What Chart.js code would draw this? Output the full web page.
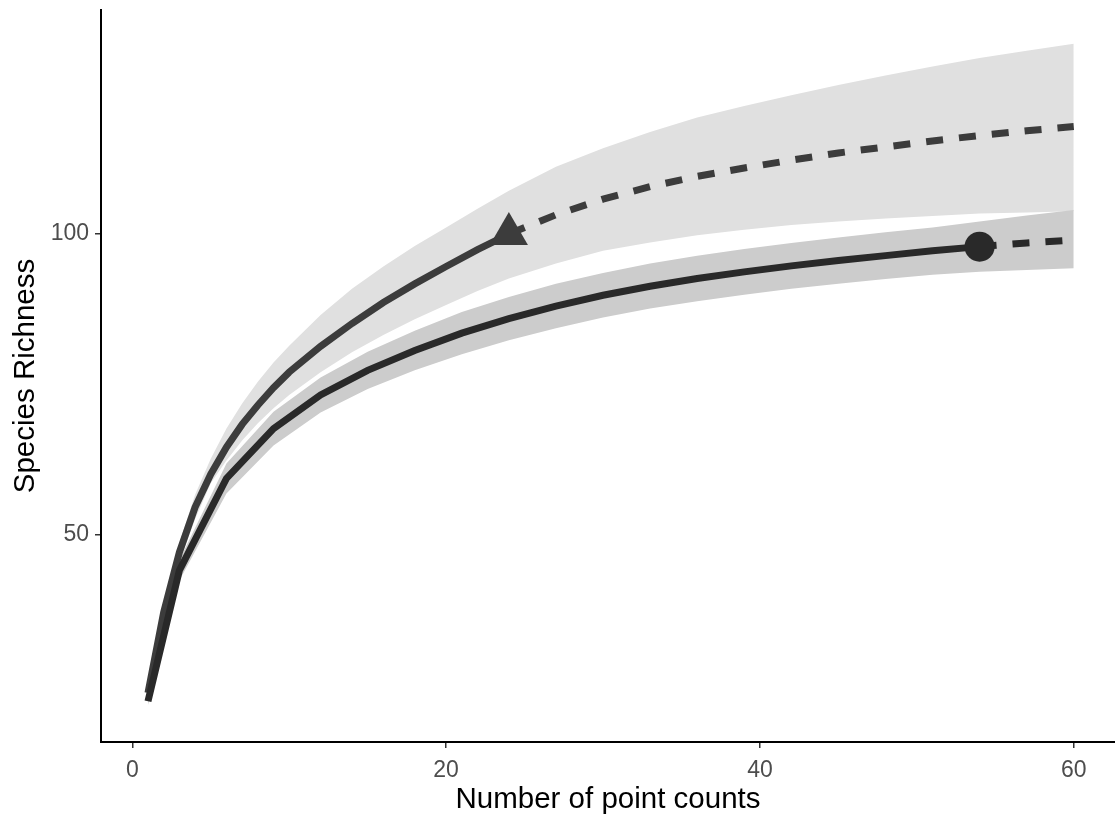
<!DOCTYPE html>
<html>
<head>
<meta charset="utf-8">
<script src="https://cdn.jsdelivr.net/npm/chart.js@4.4.1/dist/chart.umd.min.js"></script>
<style>
  html, body { margin: 0; padding: 0; background: #ffffff; }
  #wrap { width: 1115px; height: 818px; }
</style>
</head>
<body>
<div id="wrap"><canvas id="rarefaction"></canvas></div>
<script>
const xTicks = [0, 20, 40, 60];
const yTicks = [50, 100];

// site 1 (circle): observed up to 54 point counts, extrapolated after
const s1Ref = 54;
const s1Size = [1, 3, 6, 9, 12, 15, 18, 21, 24, 27, 30, 33, 36, 39, 42, 45, 48, 51, 54, 57, 60];
const s1Est = [22.2, 44, 59.3, 67.6, 73.2, 77.3, 80.6, 83.5, 85.9, 88.0, 89.8, 91.3, 92.6, 93.7, 94.7, 95.6, 96.4, 97.2, 97.9, 98.5, 99.0];
const s1Lcl = [21.6, 42.3, 56.8, 64.8, 70.3, 74.2, 77.3, 80.0, 82.3, 84.3, 86.1, 87.6, 88.8, 89.9, 90.9, 91.7, 92.5, 93.2, 93.7, 94.0, 94.3];
const s1Ucl = [22.8, 45.7, 61.8, 70.4, 76.1, 80.4, 83.9, 87.0, 89.5, 91.7, 93.5, 95.1, 96.4, 97.5, 98.5, 99.4, 100.3, 101.1, 102.1, 103.1, 104.0];

// site 2 (triangle): observed up to 24 point counts
const s2Ref = 24;
const s2Size = [1, 2, 3, 4, 5, 6, 7, 8, 9, 10, 12, 14, 16, 18, 20, 22, 24, 27, 30, 33, 36, 39, 42, 45, 48, 51, 54, 57, 60];
const s2Est = [23.6, 37, 47, 54.5, 60, 64.5, 68.3, 71.5, 74.4, 77, 81.3, 85.1, 88.6, 91.7, 94.6, 97.4, 100.0, 103.2, 105.8, 107.9, 109.6, 111.0, 112.3, 113.5, 114.5, 115.5, 116.4, 117.2, 117.9];
const s2Lcl = [23.0, 35.8, 45.4, 52.5, 58.5, 62.3, 65.6, 68.5, 71.0, 73.2, 77.0, 80.3, 83.2, 85.8, 88.2, 90.5, 92.6, 95.1, 97.2, 98.6, 99.8, 100.7, 101.5, 102.1, 102.6, 103.0, 103.4, 103.6, 103.8];
const s2Ucl = [24.2, 38.2, 48.6, 56.6, 62.6, 67.6, 71.8, 75.4, 78.6, 81.4, 86.5, 90.9, 94.6, 98.0, 101.1, 104.2, 107.2, 111.2, 114.3, 117.0, 119.4, 121.3, 123.1, 124.8, 126.4, 127.9, 129.3, 130.5, 131.7];

const font = "'Liberation Sans', Arial, sans-serif";

const pts = (xs, ys) => xs.map((x, i) => ({ x: x, y: ys[i] }));
const observed = (xs, ys, ref) => pts(xs, ys).filter((p) => p.x <= ref);
const extrapolated = (xs, ys, ref) => pts(xs, ys).filter((p) => p.x >= ref);
const refPoint = (xs, ys, ref) => pts(xs, ys).filter((p) => p.x === ref);

const line = (data, color, dashed) => ({
  type: "line",
  data: data,
  borderColor: color,
  borderWidth: 7,
  borderDash: dashed ? [17, 16] : [],
  borderCapStyle: "butt",
  pointRadius: 0,
  tension: 0,
  fill: false,
});

const band = (data, color, fill) => ({
  type: "line",
  data: data,
  borderWidth: 0,
  borderColor: "rgba(0,0,0,0)",
  backgroundColor: color,
  pointRadius: 0,
  tension: 0,
  fill: fill,
});

// keep the plot area fixed: no extra room for the end tick labels
const fixBox = (size) => (s) => {
  if (s.isHorizontal()) s.height = size;
  else s.width = size;
  s.paddingTop = 0;
  s.paddingBottom = 0;
  s.paddingLeft = 0;
  s.paddingRight = 0;
};

new Chart(document.getElementById("rarefaction"), {
  type: "line",
  data: {
    datasets: [
      {
        type: "scatter",
        data: refPoint(s1Size, s1Est, s1Ref),
        pointStyle: "circle",
        pointRadius: 15,
        backgroundColor: "#292929",
        borderWidth: 0,
      },
      {
        type: "scatter",
        data: refPoint(s2Size, s2Est, s2Ref),
        pointStyle: "triangle",
        pointRadius: 22,
        backgroundColor: "#3c3c3c",
        borderWidth: 0,
      },
      line(observed(s1Size, s1Est, s1Ref), "#292929", false),
      line(extrapolated(s1Size, s1Est, s1Ref), "#292929", true),
      line(observed(s2Size, s2Est, s2Ref), "#3c3c3c", false),
      line(extrapolated(s2Size, s2Est, s2Ref), "#3c3c3c", true),
      // confidence bands
      band(pts(s1Size, s1Lcl), "#cccccc", false),
      band(pts(s1Size, s1Ucl), "#cccccc", "-1"),
      band(pts(s2Size, s2Lcl), "#e0e0e0", false),
      band(pts(s2Size, s2Ucl), "#e0e0e0", "-1"),
    ],
  },
  options: {
    responsive: true,
    maintainAspectRatio: false,
    animation: false,
    layout: { autoPadding: false, padding: { top: 10, right: 0, bottom: 0, left: 0 } },
    plugins: {
      legend: { display: false },
      tooltip: { enabled: false },
      filler: { drawTime: "beforeDatasetsDraw" },
    },
    scales: {
      x: {
        type: "linear",
        min: -1.995,
        max: 62.63,
        afterBuildTicks: (s) => { s.ticks = xTicks.map((v) => ({ value: v })); },
        afterFit: fixBox(76),
        grid: { drawOnChartArea: false, tickLength: 6, color: "#333333", lineWidth: 1.5 },
        border: { display: true, color: "#000000", width: 2 },
        ticks: { color: "#4d4d4d", font: { family: font, size: 23 }, padding: 9, maxRotation: 0 },
        title: {
          display: true,
          text: "Number of point counts",
          color: "#000000",
          font: { family: font, size: 29.5 },
          padding: { top: 0, bottom: 0 },
        },
      },
      y: {
        type: "linear",
        min: 15.42,
        max: 137.3,
        afterBuildTicks: (s) => { s.ticks = yTicks.map((v) => ({ value: v })); },
        afterFit: fixBox(101),
        grid: { drawOnChartArea: false, tickLength: 6, color: "#333333", lineWidth: 1.5 },
        border: { display: true, color: "#000000", width: 2 },
        ticks: { color: "#4d4d4d", font: { family: font, size: 23 }, padding: 6 },
        title: {
          display: true,
          text: "Species Richness",
          color: "#000000",
          font: { family: font, size: 29.5 },
          padding: { top: 8, bottom: 0 },
        },
      },
    },
  },
});
</script>
</body>
</html>
